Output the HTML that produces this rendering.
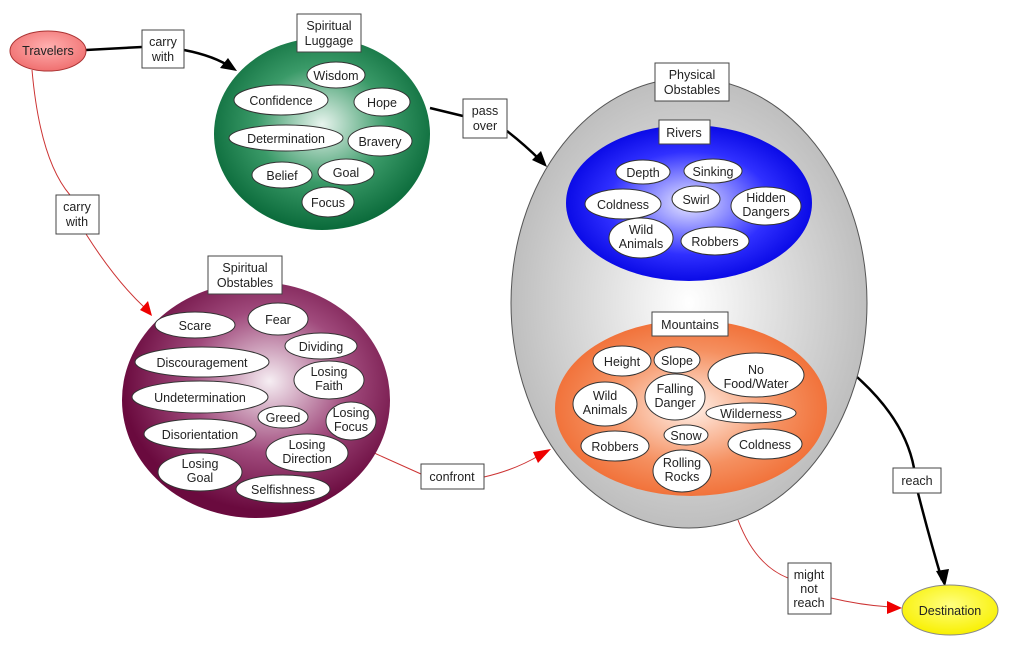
<!DOCTYPE html>
<html><head><meta charset="utf-8"><style>
html,body{margin:0;padding:0;background:#fff}
svg{display:block}
text{font-family:"Liberation Sans",Arial,sans-serif;font-size:12.5px;fill:#222;text-anchor:middle}
.w{fill:#fff;stroke:#333;stroke-width:1}
.b{fill:#fff;stroke:#444;stroke-width:1}
</style></head><body>
<svg width="1024" height="651" viewBox="0 0 1024 651" xmlns="http://www.w3.org/2000/svg">
<defs>
<radialGradient id="gr" cx="0.5" cy="0.45" r="0.55"><stop offset="0" stop-color="#e8f4ee"/><stop offset="0.55" stop-color="#3a9a68"/><stop offset="1" stop-color="#0a6a3a"/></radialGradient>
<radialGradient id="pu" cx="0.55" cy="0.42" r="0.55"><stop offset="0" stop-color="#f6eef3"/><stop offset="0.55" stop-color="#a04a7c"/><stop offset="1" stop-color="#6a0a3e"/></radialGradient>
<radialGradient id="gy" cx="0.5" cy="0.5" r="0.55"><stop offset="0" stop-color="#ffffff"/><stop offset="1" stop-color="#b8b8b8"/></radialGradient>
<radialGradient id="bl" cx="0.5" cy="0.5" r="0.55"><stop offset="0" stop-color="#e8e8ff"/><stop offset="0.6" stop-color="#3030ff"/><stop offset="1" stop-color="#0000e0"/></radialGradient>
<radialGradient id="or" cx="0.5" cy="0.5" r="0.55"><stop offset="0" stop-color="#fff0e8"/><stop offset="0.6" stop-color="#f59060"/><stop offset="1" stop-color="#f06a30"/></radialGradient>
<radialGradient id="tr" cx="0.5" cy="0.4" r="0.6"><stop offset="0" stop-color="#ffb0b0"/><stop offset="1" stop-color="#f07070"/></radialGradient>
<radialGradient id="ye" cx="0.5" cy="0.4" r="0.6"><stop offset="0" stop-color="#ffff80"/><stop offset="1" stop-color="#f8f000"/></radialGradient>
</defs>

<!-- connectors -->
<g fill="none">
<path d="M86,50 L142,47" stroke="#000" stroke-width="2.5"/>
<path d="M184,50 Q215,56 232,68" stroke="#000" stroke-width="2.5"/>
<path d="M32,70 Q40,160 70,195" stroke="#c33" stroke-width="1"/>
<path d="M86,234 Q115,280 145,308" stroke="#c33" stroke-width="1"/>
<path d="M430,108 L463,116" stroke="#000" stroke-width="2.5"/>
<path d="M507,131 Q525,145 540,160" stroke="#000" stroke-width="2.5"/>
<path d="M372,452 L421,474" stroke="#c33" stroke-width="1"/>
<path d="M484,477 Q515,470 540,455" stroke="#c33" stroke-width="1"/>
<path d="M857,377 Q905,420 914,468" stroke="#000" stroke-width="2.5"/>
<path d="M918,493 Q930,540 942,580" stroke="#000" stroke-width="2.5"/>
<path d="M738,520 Q755,565 788,578" stroke="#c33" stroke-width="1"/>
<path d="M831,598 Q860,605 890,607" stroke="#c33" stroke-width="1"/>
</g>
<polygon points="237,71 220,68 228,58" fill="#000"/>
<polygon points="547,167 532,160 541,151" fill="#000"/>
<polygon points="152,316 140,310 148,301" fill="#e00"/>
<polygon points="551,449 538,463 533,452" fill="#e00"/>
<polygon points="945,587 936,571 949,569" fill="#000"/>
<polygon points="902,608 887,614 887,601" fill="#e00"/>

<!-- Travelers -->
<ellipse cx="48" cy="51" rx="38" ry="20" fill="url(#tr)" stroke="#a33"/>
<text x="48" y="55">Travelers</text>

<!-- Green -->
<ellipse cx="322" cy="134" rx="108" ry="96" fill="url(#gr)"/>
<ellipse class="w" cx="336" cy="75" rx="29" ry="13"/><text x="336" y="80">Wisdom</text>
<ellipse class="w" cx="281" cy="100" rx="47" ry="15"/><text x="281" y="105">Confidence</text>
<ellipse class="w" cx="382" cy="102" rx="28" ry="14"/><text x="382" y="107">Hope</text>
<ellipse class="w" cx="286" cy="138" rx="57" ry="13"/><text x="286" y="143">Determination</text>
<ellipse class="w" cx="380" cy="141" rx="32" ry="15"/><text x="380" y="146">Bravery</text>
<ellipse class="w" cx="282" cy="175" rx="30" ry="13"/><text x="282" y="180">Belief</text>
<ellipse class="w" cx="346" cy="172" rx="28" ry="13"/><text x="346" y="177">Goal</text>
<ellipse class="w" cx="328" cy="202" rx="26" ry="15"/><text x="328" y="207">Focus</text>
<rect class="b" x="297" y="14" width="64" height="38"/><text x="329" y="30">Spiritual</text><text x="329" y="45">Luggage</text>

<!-- Purple -->
<ellipse cx="256" cy="400" rx="134" ry="118" fill="url(#pu)"/>
<ellipse class="w" cx="195" cy="325" rx="40" ry="13"/><text x="195" y="330">Scare</text>
<ellipse class="w" cx="278" cy="319" rx="30" ry="16"/><text x="278" y="324">Fear</text>
<ellipse class="w" cx="321" cy="346" rx="36" ry="13"/><text x="321" y="351">Dividing</text>
<ellipse class="w" cx="202" cy="362" rx="67" ry="15"/><text x="202" y="367">Discouragement</text>
<ellipse class="w" cx="329" cy="380" rx="35" ry="19"/><text x="329" y="376">Losing</text><text x="329" y="390">Faith</text>
<ellipse class="w" cx="200" cy="397" rx="68" ry="16"/><text x="200" y="402">Undetermination</text>
<ellipse class="w" cx="283" cy="417" rx="25" ry="11"/><text x="283" y="422">Greed</text>
<ellipse class="w" cx="351" cy="421" rx="25" ry="19"/><text x="351" y="417">Losing</text><text x="351" y="431">Focus</text>
<ellipse class="w" cx="200" cy="434" rx="56" ry="15"/><text x="200" y="439">Disorientation</text>
<ellipse class="w" cx="307" cy="453" rx="41" ry="19"/><text x="307" y="449">Losing</text><text x="307" y="463">Direction</text>
<ellipse class="w" cx="200" cy="472" rx="42" ry="19"/><text x="200" y="468">Losing</text><text x="200" y="482">Goal</text>
<ellipse class="w" cx="283" cy="489" rx="47" ry="14"/><text x="283" y="494">Selfishness</text>
<rect class="b" x="208" y="256" width="74" height="38"/><text x="245" y="272">Spiritual</text><text x="245" y="287">Obstables</text>

<!-- Gray -->
<ellipse cx="689" cy="303" rx="178" ry="225" fill="url(#gy)" stroke="#555"/>
<ellipse cx="689" cy="203" rx="123" ry="78" fill="url(#bl)"/>
<ellipse class="w" cx="643" cy="172" rx="27" ry="12"/><text x="643" y="177">Depth</text>
<ellipse class="w" cx="713" cy="171" rx="29" ry="12"/><text x="713" y="176">Sinking</text>
<ellipse class="w" cx="623" cy="204" rx="38" ry="15"/><text x="623" y="209">Coldness</text>
<ellipse class="w" cx="696" cy="199" rx="24" ry="13"/><text x="696" y="204">Swirl</text>
<ellipse class="w" cx="766" cy="206" rx="35" ry="19"/><text x="766" y="202">Hidden</text><text x="766" y="216">Dangers</text>
<ellipse class="w" cx="641" cy="238" rx="32" ry="20"/><text x="641" y="234">Wild</text><text x="641" y="248">Animals</text>
<ellipse class="w" cx="715" cy="241" rx="34" ry="14"/><text x="715" y="246">Robbers</text>
<rect class="b" x="659" y="120" width="51" height="24"/><text x="684" y="137">Rivers</text>

<ellipse cx="691" cy="408" rx="136" ry="88" fill="url(#or)"/>
<ellipse class="w" cx="622" cy="361" rx="29" ry="15"/><text x="622" y="366">Height</text>
<ellipse class="w" cx="677" cy="360" rx="23" ry="13"/><text x="677" y="365">Slope</text>
<ellipse class="w" cx="756" cy="375" rx="48" ry="22"/><text x="756" y="374">No</text><text x="756" y="388">Food/Water</text>
<ellipse class="w" cx="605" cy="404" rx="32" ry="22"/><text x="605" y="400">Wild</text><text x="605" y="414">Animals</text>
<ellipse class="w" cx="675" cy="397" rx="30" ry="23"/><text x="675" y="393">Falling</text><text x="675" y="407">Danger</text>
<ellipse class="w" cx="751" cy="413" rx="45" ry="10"/><text x="751" y="418">Wilderness</text>
<ellipse class="w" cx="686" cy="435" rx="22" ry="10"/><text x="686" y="440">Snow</text>
<ellipse class="w" cx="615" cy="446" rx="34" ry="15"/><text x="615" y="451">Robbers</text>
<ellipse class="w" cx="765" cy="444" rx="37" ry="15"/><text x="765" y="449">Coldness</text>
<ellipse class="w" cx="682" cy="471" rx="29" ry="21"/><text x="682" y="467">Rolling</text><text x="682" y="481">Rocks</text>
<rect class="b" x="652" y="312" width="76" height="24"/><text x="690" y="329">Mountains</text>
<rect class="b" x="655" y="63" width="74" height="38"/><text x="692" y="79">Physical</text><text x="692" y="94">Obstables</text>

<!-- Destination -->
<ellipse cx="950" cy="610" rx="48" ry="25" fill="url(#ye)" stroke="#888"/>
<text x="950" y="615">Destination</text>

<!-- labels -->
<rect class="b" x="142" y="30" width="42" height="38"/><text x="163" y="46">carry</text><text x="163" y="61">with</text>
<rect class="b" x="56" y="195" width="43" height="39"/><text x="77" y="211">carry</text><text x="77" y="226">with</text>
<rect class="b" x="463" y="99" width="44" height="39"/><text x="485" y="115">pass</text><text x="485" y="130">over</text>
<rect class="b" x="421" y="464" width="63" height="25"/><text x="452" y="481">confront</text>
<rect class="b" x="893" y="468" width="48" height="25"/><text x="917" y="485">reach</text>
<rect class="b" x="788" y="563" width="43" height="51"/><text x="809" y="579">might</text><text x="809" y="593">not</text><text x="809" y="607">reach</text>
</svg>
</body></html>
